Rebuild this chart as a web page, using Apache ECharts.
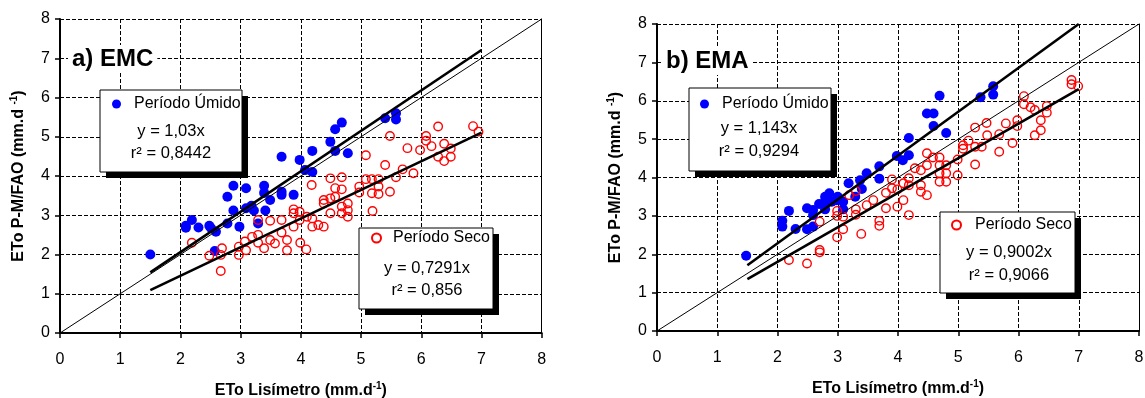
<!DOCTYPE html>
<html>
<head>
<meta charset="utf-8">
<script src="https://cdn.jsdelivr.net/npm/echarts@6/dist/echarts.min.js"></script>
<style>
  html, body { margin: 0; padding: 0; background: #fff; }
  #chart { width: 1145px; height: 398px; }
</style>
</head>
<body>
<div id="chart"></div>
<script>
// ---- data ----
const ticks = [0, 1, 2, 3, 4, 5, 6, 7, 8];
const seriesNames = ['Período Úmido', 'Período Seco'];

// a) EMC
const emcUmido = [
  [1.5, 2.0], [2.09, 2.73], [2.19, 2.88], [2.09, 2.68], [2.3, 2.69], [2.48, 2.73], [2.51, 2.67],
  [2.59, 2.58], [2.57, 2.09], [2.78, 2.79], [2.88, 3.12], [2.98, 2.71], [2.78, 3.47], [2.88, 3.75],
  [3.09, 3.69], [3.09, 3.18], [3.18, 3.24], [3.22, 3.12], [3.29, 2.79], [3.39, 3.75], [3.39, 3.57],
  [3.41, 3.12], [3.49, 3.39], [3.68, 3.6], [3.68, 3.52], [3.88, 3.52], [3.68, 4.49], [3.98, 4.41],
  [4.07, 4.15], [4.19, 4.1], [4.19, 4.64], [4.49, 4.87], [4.57, 4.64], [4.57, 5.19], [4.68, 5.36],
  [4.78, 4.58], [5.4, 5.47], [5.58, 5.6], [5.58, 5.44]
];
const emcSeco = [
  [2.19, 2.3], [2.48, 1.97], [2.67, 1.99], [2.69, 2.16], [2.67, 1.58], [2.97, 2.2], [2.97, 1.99],
  [3.07, 2.33], [3.09, 2.11], [3.19, 2.45], [3.29, 2.88], [3.29, 2.5], [3.29, 2.3], [3.39, 2.16],
  [3.49, 2.86], [3.49, 2.37], [3.57, 2.28], [3.68, 2.88], [3.68, 2.56], [3.77, 2.37], [3.77, 2.11],
  [3.88, 3.15], [3.88, 3.05], [3.98, 3.09], [3.88, 2.71], [3.99, 2.3], [4.09, 2.13], [3.98, 2.88],
  [4.18, 3.77], [4.1, 2.96], [4.19, 2.92], [4.19, 2.71], [4.29, 2.75], [4.38, 2.71], [4.38, 3.39],
  [4.38, 3.3], [4.49, 3.94], [4.68, 3.97], [4.57, 3.69], [4.68, 3.66], [4.49, 3.43], [4.49, 3.05],
  [4.57, 3.47], [4.68, 3.22], [4.68, 3.05], [4.78, 3.3], [4.78, 3.13], [4.78, 2.96], [4.97, 3.73],
  [4.97, 3.58], [5.08, 4.53], [5.08, 3.92], [5.18, 3.92], [5.19, 3.11], [5.18, 3.56], [5.29, 3.92],
  [5.29, 3.73], [5.29, 3.54], [5.4, 4.28], [5.48, 5.02], [5.48, 3.6], [5.58, 3.97], [5.69, 4.17],
  [5.77, 4.71], [5.87, 4.07], [5.98, 4.66], [6.08, 5.02], [6.08, 4.9], [6.17, 4.76], [6.28, 5.26],
  [6.28, 4.49], [6.38, 4.82], [6.38, 4.38], [6.49, 4.49], [6.49, 4.7], [6.86, 5.27], [6.95, 5.13]
];

// b) EMA
const emaUmido = [
  [1.48, 1.96], [2.08, 2.87], [2.08, 2.72], [2.19, 3.13], [2.3, 2.66], [2.49, 3.2], [2.49, 2.65],
  [2.59, 3.15], [2.59, 3.02], [2.59, 2.72], [2.69, 3.31], [2.79, 3.37], [2.79, 3.5], [2.86, 3.59],
  [2.9, 3.37], [2.98, 3.41], [2.79, 3.17], [3.0, 3.5], [3.09, 3.37], [3.09, 3.17], [3.18, 3.85],
  [3.29, 3.5], [3.37, 3.93], [3.48, 4.11], [3.4, 3.7], [3.69, 4.29], [3.69, 3.97], [3.98, 4.56],
  [4.08, 4.45], [4.18, 4.58], [4.18, 5.03], [4.48, 5.67], [4.59, 5.67], [4.59, 5.34], [4.69, 6.13],
  [4.8, 5.16], [5.37, 6.09], [5.58, 6.38], [5.58, 6.16]
];
const emaSeco = [
  [2.19, 1.85], [2.49, 1.76], [2.7, 2.11], [2.7, 2.05], [2.7, 2.85], [2.99, 3.13], [2.99, 3.0],
  [2.99, 2.44], [3.09, 2.98], [3.09, 2.65], [3.19, 3.54], [3.3, 3.65], [3.3, 3.17], [3.3, 3.03],
  [3.39, 2.53], [3.48, 3.28], [3.59, 3.41], [3.69, 2.87], [3.69, 2.74], [3.8, 3.6], [3.8, 3.2],
  [3.9, 3.95], [3.9, 3.72], [3.99, 3.69], [3.99, 3.24], [4.09, 3.41], [4.18, 3.02], [4.09, 3.85],
  [4.18, 3.98], [4.18, 3.8], [4.28, 4.24], [4.38, 4.19], [4.38, 3.8], [4.38, 3.63], [4.48, 4.63],
  [4.48, 4.32], [4.48, 3.54], [4.58, 4.52], [4.69, 4.52], [4.69, 4.32], [4.69, 4.11], [4.69, 3.89],
  [4.8, 4.11], [4.8, 3.89], [4.8, 4.32], [4.99, 4.47], [4.99, 4.06], [5.08, 4.84], [5.08, 4.75],
  [5.17, 4.96], [5.28, 5.3], [5.28, 4.8], [5.28, 4.34], [5.39, 4.8], [5.47, 5.42], [5.48, 5.1],
  [5.68, 5.13], [5.68, 4.67], [5.79, 5.41], [5.9, 4.9], [5.98, 5.49], [5.98, 5.34], [6.09, 6.12],
  [6.09, 5.91], [6.2, 5.83], [6.27, 5.76], [6.27, 5.1], [6.37, 5.49], [6.37, 5.23], [6.47, 5.86],
  [6.47, 5.69], [6.88, 6.54], [6.88, 6.43], [6.99, 6.38]
];

// regression (y = a x) as printed, drawn over the fitted range
const emcSlopes = [1.03, 0.7291];
const emaSlopes = [1.143, 0.9002];
const emcR2 = ['0,8442', '0,856'];
const emaR2 = ['0,9294', '0,9066'];
const fitRange = [1.5, 7];

const FONT = "'Liberation Sans', Arial, sans-serif";
const chart = echarts.init(document.getElementById('chart'));

const fitLine = (slope) => fitRange.map(x => [x, x * slope]);
const fmt = (v) => String(v).replace('.', ',');

const nameStyle = {
  fontFamily: FONT, fontSize: 16, fontWeight: 'bold', color: '#000', lineHeight: 19,
  rich: { s: { fontFamily: FONT, fontSize: 10, fontWeight: 'bold', color: '#000', verticalAlign: 'top', lineHeight: 19 } }
};

function xAxis(grid) {
  return {
    type: 'value', gridIndex: grid, min: 0, max: 8, interval: 1,
    name: 'ETo Lisímetro (mm.d{s|-1})', nameLocation: 'middle', nameGap: 48,
    nameTextStyle: nameStyle,
    axisLine: { lineStyle: { color: '#000', width: 2 } },
    axisTick: { length: 5, lineStyle: { color: '#000', width: 1.5 } },
    axisLabel: { fontFamily: FONT, fontSize: 16, color: '#000', margin: 19 },
    splitLine: { lineStyle: { color: '#000', width: 1, type: [4, 2] } }
  };
}
function yAxis(grid) {
  return {
    type: 'value', gridIndex: grid, min: 0, max: 8, interval: 1,
    name: 'ETo P-M/FAO (mm.d {s|-1})', nameLocation: 'middle', nameGap: 32,
    nameTextStyle: nameStyle,
    axisLine: { lineStyle: { color: '#000', width: 2 } },
    axisTick: { length: 5, lineStyle: { color: '#000', width: 1.5 } },
    axisLabel: { fontFamily: FONT, fontSize: 16, color: '#000', margin: 10 },
    splitLine: { lineStyle: { color: '#000', width: 1, type: [4, 2] } }
  };
}
function rightEdge(grid) {
  return {
    type: 'value', gridIndex: grid, min: 0, max: 8, position: 'right',
    axisLine: { show: true, lineStyle: { color: '#000', width: 1 } },
    axisTick: { show: false }, axisLabel: { show: false }, splitLine: { show: false }
  };
}

function panelSeries(xi, yi, umido, seco, slopes) {
  return [
    { type: 'scatter', name: seriesNames[0], xAxisIndex: xi, yAxisIndex: yi, data: umido,
      symbol: 'circle', symbolSize: 10, itemStyle: { color: '#0000ff', opacity: 1 }, z: 3 },
    { type: 'scatter', name: seriesNames[1], xAxisIndex: xi, yAxisIndex: yi, data: seco,
      symbol: 'circle', symbolSize: 8.5,
      itemStyle: { color: 'rgba(255,255,255,0)', borderColor: '#ff0000', borderWidth: 1.4, opacity: 1 }, z: 3 },
    { type: 'line', xAxisIndex: xi, yAxisIndex: yi, data: [[0, 0], [8, 8]], symbol: 'none',
      lineStyle: { color: '#000', width: 1 }, z: 4 },
    { type: 'line', xAxisIndex: xi, yAxisIndex: yi, data: fitLine(slopes[0]), symbol: 'none',
      lineStyle: { color: '#000', width: 2.6 }, z: 4 },
    { type: 'line', xAxisIndex: xi, yAxisIndex: yi, data: fitLine(slopes[1]), symbol: 'none',
      lineStyle: { color: '#000', width: 2.6 }, z: 4 }
  ];
}

// legend box: white rect with a hard black shadow, plus the equation lines
function box(x, y, w, h, cx, y1, y2, slope, r2) {
  return [
    { type: 'rect', shape: { x: x + 6, y: y + 6, width: w, height: h }, style: { fill: '#000' }, z: 100 },
    { type: 'rect', shape: { x: x, y: y, width: w, height: h }, style: { fill: '#fff', stroke: '#000', lineWidth: 1 }, z: 101 },
    { type: 'text', x: cx, y: y1, z: 102,
      style: { text: 'y = ' + fmt(slope) + 'x', font: '16.5px ' + FONT, fill: '#000', textAlign: 'center', textVerticalAlign: 'middle' } },
    { type: 'text', x: cx, y: y2, z: 102,
      style: { text: 'r² = ' + r2, font: '16.5px ' + FONT, fill: '#000', textAlign: 'center', textVerticalAlign: 'middle' } }
  ];
}

function legend(name, left, top, pad) {
  return {
    data: [name], left: left, top: top, padding: 0, z: 110,
    itemWidth: 9, itemHeight: 9, selectedMode: false,
    textStyle: { fontFamily: FONT, fontSize: 16, color: '#000', padding: [0, 0, 0, pad] }
  };
}

const titleStyle = { fontFamily: FONT, fontSize: 24, fontWeight: 'bold', color: '#000' };

chart.setOption({
  animation: false,
  backgroundColor: '#fff',
  title: [
    { text: 'a) EMC', left: 68, top: 45, padding: [2, 4], backgroundColor: '#fff', textStyle: titleStyle, z: 20 },
    { text: 'b) EMA', left: 662, top: 47, padding: [2, 4], backgroundColor: '#fff', textStyle: titleStyle, z: 20 }
  ],
  grid: [
    { left: 60, top: 19, width: 481.7, height: 314, outerBoundsMode: 'none', containLabel: false },
    { left: 657, top: 24, width: 482, height: 307, outerBoundsMode: 'none', containLabel: false }
  ],
  xAxis: [xAxis(0), xAxis(1)],
  yAxis: [yAxis(0), rightEdge(0), yAxis(1), rightEdge(1)],
  legend: [
    legend(seriesNames[0], 112, 96, 8),
    legend(seriesNames[1], 371, 230, 7),
    legend(seriesNames[0], 700, 96, 8),
    legend(seriesNames[1], 951, 217, 9)
  ],
  graphic: [
    ...box(100, 90, 142, 82, 171, 131, 153, emcSlopes[0], emcR2[0]),
    ...box(359, 228, 134, 81, 427, 268, 290, emcSlopes[1], emcR2[1]),
    ...box(689, 88, 142, 83, 759, 128, 151, emaSlopes[0], emaR2[0]),
    ...box(940, 212, 135, 81, 1009, 252, 275, emaSlopes[1], emaR2[1])
  ],
  series: [
    ...panelSeries(0, 0, emcUmido, emcSeco, emcSlopes),
    ...panelSeries(1, 2, emaUmido, emaSeco, emaSlopes)
  ]
});
</script>
</body>
</html>
